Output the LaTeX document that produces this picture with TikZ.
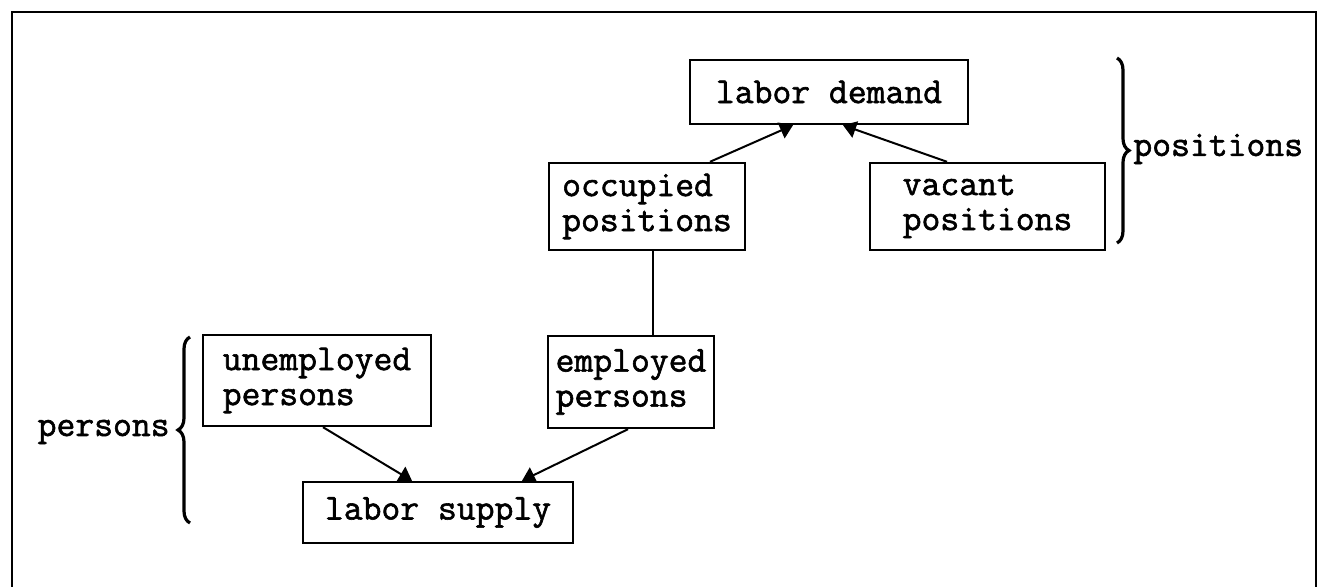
\documentclass[tikz,border=0pt]{standalone}
\usepackage{fontspec}
\newfontfamily\cour{Latin Modern Mono}[FakeBold=1.6]
\usetikzlibrary{arrows.meta,decorations.pathreplacing}
\begin{document}
\begin{tikzpicture}[x=0.5pt,y=-0.5pt,
  box/.style={draw,line width=1.2pt,align=left,inner sep=0pt,
    font=\cour\fontsize{18.3}{17.5}\selectfont},
  conn/.style={line width=1pt},
  arr/.style={line width=1pt,-{Triangle[width=8.5pt,length=6.5pt]}},
  bracestyle/.style={line width=1.6pt,decorate,decoration={brace,amplitude=6pt}},
  lbl/.style={font=\cour\fontsize{18.3}{17.5}\selectfont,inner sep=0pt}]
\useasboundingbox (0,0) rectangle (1324,587);
% frame
\draw[line width=1.4pt] (12,587) -- (12,12) -- (1316,12) -- (1316,587);
% boxes
\node[box,minimum width=139pt,minimum height=32pt] (ld) at (829,92) {labor demand};
\node[box,minimum width=98pt,minimum height=43.5pt] (occ) at (647,206.5) {occupied\\positions};
\node[box,minimum width=117.5pt,minimum height=43.5pt] (vac) at (987.5,206.5) {vacant\\positions};
\node[box,minimum width=114pt,minimum height=45.5pt] (unemp) at (317,380.5) {unemployed\\persons};
\node[box,minimum width=83pt,minimum height=46pt] (emp) at (631,382) {employed\\persons};
\node[box,minimum width=135pt,minimum height=30.5pt] (ls) at (438,512.5) {labor supply};
% connectors
\draw[arr] ([xshift=31.5pt]occ.north) -- ([xshift=-18pt]ld.south);
\draw[arr] ([xshift=-20.25pt]vac.north) -- ([xshift=7pt]ld.south);
\draw[conn] ([xshift=3pt]occ.south) -- ([xshift=3pt]occ.south |- emp.north);
\draw[arr] ([xshift=3pt]unemp.south) -- ([xshift=-13pt]ls.north);
\draw[arr] ([xshift=-1.5pt]emp.south) -- ([xshift=42pt]ls.north);
% braces
\coordinate (pb1) at (1117,58);
\coordinate (pb2) at (1117,243);
\draw[bracestyle] (pb1) -- (pb2);
\node[lbl,anchor=west] (plbl) at (1133,149) {positions};
\coordinate (qb1) at (190,523);
\coordinate (qb2) at (190,337);
\draw[bracestyle] (qb1) -- (qb2);
\node[lbl,anchor=east] (qlbl) at (170,432) {persons};
\end{tikzpicture}
\end{document}
